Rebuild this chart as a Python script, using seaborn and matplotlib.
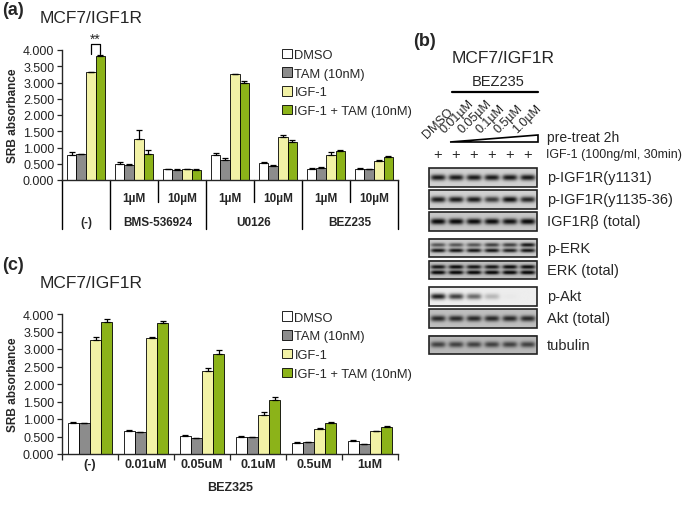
import numpy as np
import pandas as pd
import matplotlib
matplotlib.use("Agg")
import matplotlib.pyplot as plt
from matplotlib.patches import Rectangle, Polygon
import seaborn as sns

# ---------------- data ----------------
TREATS = ["DMSO", "TAM (10nM)", "IGF-1", "IGF-1 + TAM (10nM)"]
COLORS = ["#ffffff", "#8c8c8c", "#ffff99", "#99cc00"]

# panel (a)
a_cats = ["(-)", "BMS 1", "BMS 10", "U0126 1", "U0126 10", "BEZ 1", "BEZ 10"]
a_sub = ["", "1µM", "10µM", "1µM", "10µM", "1µM", "10µM"]
a_main = ["BMS-536924", "U0126", "BEZ235"]
a_dmso = [0.78, 0.49, 0.33, 0.76, 0.53, 0.34, 0.34]
a_tam = [0.79, 0.46, 0.32, 0.61, 0.43, 0.37, 0.34]
a_igf = [3.31, 1.25, 0.34, 3.26, 1.31, 0.77, 0.59]
a_igf_tam = [3.82, 0.80, 0.32, 2.97, 1.18, 0.90, 0.71]
a_err_dmso = [0.08, 0.05, 0.02, 0.06, 0.01, 0.02, 0.02]
a_err_tam = [0.02, 0.02, 0.01, 0.06, 0.02, 0.02, 0.01]
a_err_igf = [0.02, 0.30, 0.01, 0.01, 0.08, 0.08, 0.02]
a_err_igf_tam = [0.02, 0.12, 0.01, 0.08, 0.05, 0.02, 0.02]

# panel (c)
c_cats = ["(-)", "0.01uM", "0.05uM", "0.1uM", "0.5uM", "1uM"]
c_dmso = [0.90, 0.67, 0.52, 0.50, 0.31, 0.36]
c_tam = [0.88, 0.62, 0.45, 0.49, 0.33, 0.29]
c_igf = [3.26, 3.31, 2.36, 1.11, 0.71, 0.65]
c_igf_tam = [3.78, 3.74, 2.86, 1.54, 0.90, 0.78]
c_err_dmso = [0.01, 0.01, 0.02, 0.01, 0.02, 0.03]
c_err_tam = [0.01, 0.01, 0.01, 0.01, 0.01, 0.01]
c_err_igf = [0.08, 0.02, 0.10, 0.10, 0.02, 0.01]
c_err_igf_tam = [0.07, 0.05, 0.10, 0.10, 0.01, 0.01]

# panel (b) western blot
lanes = ["DMSO", "0.01µM", "0.05µM", "0.1µM", "0.5µM", "1.0µM"]
blot_rows = ["p-IGF1R(y1131)", "p-IGF1R(y1135-36)", "IGF1Rβ (total)",
             "p-ERK", "ERK (total)", "p-Akt", "Akt (total)", "tubulin"]
blot_block = [0, 0, 0, 1, 1, 2, 2, 3]
# band intensities per lane (upper band, lower band for doublets)
band_upper = [
    [0.85, 0.85, 0.85, 0.85, 0.85, 0.85],
    [0.85, 0.85, 0.85, 0.70, 0.90, 0.80],
    [0.90, 0.90, 0.88, 0.88, 0.85, 0.90],
    [0.55, 0.55, 0.55, 0.65, 0.65, 0.85],
    [0.80, 0.85, 0.80, 0.80, 0.85, 0.85],
    [0.95, 0.80, 0.60, 0.25, 0.02, 0.00],
    [0.70, 0.70, 0.70, 0.70, 0.70, 0.70],
    [0.55, 0.55, 0.55, 0.55, 0.55, 0.55],
]
band_lower = [
    None, None, None,
    [0.85, 0.85, 0.85, 0.85, 0.80, 0.85],
    [0.90, 0.90, 0.90, 0.90, 0.90, 0.90],
    None, None, None,
]
blot_bg = [0.82, 0.82, 0.78, 0.80, 0.75, 0.93, 0.75, 0.72]


def long_df(cats, series):
    rows = []
    for t, vals in zip(TREATS, series):
        for c, v in zip(cats, vals):
            rows.append({"cat": c, "treat": t, "val": v})
    return pd.DataFrame(rows)


def draw_bars(ax, cats, series, errs, bbox):
    df = long_df(cats, series)
    sns.barplot(data=df, x="cat", y="val", hue="treat", order=cats,
                hue_order=TREATS, palette=COLORS, edgecolor="black",
                linewidth=0.6, width=0.8, gap=0, errorbar=None, ax=ax)
    for cont, err in zip(ax.containers, errs):
        xs = [b.get_x() + b.get_width() / 2 for b in cont]
        ys = [b.get_height() for b in cont]
        ax.errorbar(xs, ys, yerr=[np.zeros(len(err)), err], fmt="none",
                    ecolor="black", elinewidth=0.9, capsize=2.5, capthick=0.9)
    ax.set_ylim(0, 4)
    ax.set_xlim(-0.5, len(cats) - 0.5)
    ax.set_yticks(np.arange(0, 4.01, 0.5))
    ax.set_yticklabels([f"{v:.3f}" for v in np.arange(0, 4.01, 0.5)],
                       fontsize=9, color="#222222")
    ax.set_ylabel("SRB absorbance", fontsize=8.5, fontweight="bold", labelpad=3)
    ax.set_xlabel("")
    ax.tick_params(axis="y", direction="out", length=3.5, width=0.9, pad=2)
    sns.despine(ax=ax)
    for s in ["left", "bottom"]:
        ax.spines[s].set_linewidth(1.0)
    h, l = ax.get_legend_handles_labels()
    ax.legend(h, l, loc="upper left", bbox_to_anchor=bbox, frameon=False,
              fontsize=9.3, handlelength=0.75, handleheight=0.75,
              handletextpad=0.2, labelspacing=0.5, borderaxespad=0)


sns.set_style("ticks")
plt.rcParams["font.family"] = ["Liberation Sans", "DejaVu Sans"]

fig = plt.figure(figsize=(6.85, 5.06), dpi=100)
W, H = 685, 506

# ---- panel (a) ----
ax_a = fig.add_axes([62 / W, 1 - 181 / H, 336 / W, 130 / H])
draw_bars(ax_a, a_cats, [a_dmso, a_tam, a_igf, a_igf_tam],
          [a_err_dmso, a_err_tam, a_err_igf, a_err_igf_tam], (0.64, 1.05))
ax_a.set_xticks([])
xt = ax_a.get_xaxis_transform()
long_y, short_y = -0.375, -0.17
for xb in [-0.5, 0.5, 2.5, 4.5, 6.5]:
    ax_a.plot([xb, xb], [0, long_y], transform=xt, color="black", lw=1.0, clip_on=False)
for xb in [1.5, 3.5, 5.5]:
    ax_a.plot([xb, xb], [0, short_y], transform=xt, color="black", lw=1.0, clip_on=False)
for i, s in enumerate(a_sub):
    ax_a.text(i, -0.135, s, transform=xt, ha="center", va="center",
              fontsize=8.5, fontweight="bold")
ax_a.text(0, -0.32, a_cats[0], transform=xt, ha="center", va="center",
          fontsize=8.5, fontweight="bold")
for i, s in enumerate(a_main):
    ax_a.text(1.5 + 2 * i, -0.32, s, transform=xt, ha="center", va="center",
              fontsize=8.5, fontweight="bold")
# significance bracket between IGF-1 and IGF-1 + TAM in (-)
b1 = ax_a.containers[2][0]
b2 = ax_a.containers[3][0]
x1 = b1.get_x() + b1.get_width() / 2
x2 = b2.get_x() + b2.get_width() / 2
ax_a.plot([x1, x1, x2, x2], [3.88, 4.18, 4.18, 3.88], color="black", lw=0.9, clip_on=False)
ax_a.text((x1 + x2) / 2, 4.34, "**", ha="center", va="center", fontsize=10)

# ---- panel (c) ----
ax_c = fig.add_axes([62 / W, 1 - 455 / H, 336 / W, 140 / H])
draw_bars(ax_c, c_cats, [c_dmso, c_tam, c_igf, c_igf_tam],
          [c_err_dmso, c_err_tam, c_err_igf, c_err_igf_tam], (0.64, 1.055))
ax_c.set_xticks(np.arange(-0.5, len(c_cats), 1.0), minor=False)
ax_c.set_xticklabels([])
ax_c.tick_params(axis="x", direction="out", length=4, width=0.9)
xt = ax_c.get_xaxis_transform()
for i, s in enumerate(c_cats):
    ax_c.text(i, -0.07, s, transform=xt, ha="center", va="center",
              fontsize=9, fontweight="bold")
ax_c.text((len(c_cats) - 1) / 2, -0.235, "BEZ325", transform=xt,
          ha="center", va="center", fontsize=9, fontweight="bold")

# ---- overlay in pixel coordinates: titles and blot ----
ov = fig.add_axes([0, 0, 1, 1])
ov.set_xlim(0, W)
ov.set_ylim(H, 0)
ov.axis("off")
ov.patch.set_alpha(0)

ov.text(2, 10, "(a)", fontsize=13, fontweight="bold", va="center")
ov.text(40, 18, "MCF7/IGF1R", fontsize=12.5, va="center")
ov.text(2, 266, "(c)", fontsize=13, fontweight="bold", va="center")
ov.text(40, 283, "MCF7/IGF1R", fontsize=12.5, va="center")
ov.text(413, 41, "(b)", fontsize=13, fontweight="bold", va="center")
ov.text(452, 58, "MCF7/IGF1R", fontsize=12.5, va="center")

bx0, bx1 = 429, 537
lane_w = (bx1 - bx0) / len(lanes)
centers = [bx0 + lane_w * (i + 0.5) for i in range(len(lanes))]

ov.text(498, 82, "BEZ235", fontsize=10.5, ha="center", va="center")
ov.plot([centers[1] - 4, bx1 + 1], [93, 93], color="black", lw=1.6)
for i, (c, s) in enumerate(zip(centers, lanes)):
    yb = 141 if i == 0 else 136
    ov.text(c - 9, yb, s, rotation=45, rotation_mode="anchor", ha="left",
            va="bottom", fontsize=9)
ov.add_patch(Polygon([[centers[1] - 6, 143], [bx1 + 1, 143], [bx1 + 1, 135.5]],
                     closed=True, facecolor="white", edgecolor="black", lw=1.2))
ov.text(547, 138, "pre-treat 2h", fontsize=10, va="center")
for c in centers:
    ov.text(c, 155, "+", fontsize=10.5, ha="center", va="center")
ov.text(546, 155, "IGF-1 (100ng/ml, 30min)", fontsize=9.0, va="center")

row_h = 18.5
y = 169.0
prev = blot_block[0]
xs = np.linspace(0, len(lanes), 240)
ys = np.linspace(0, 1, 40)
for r, name in enumerate(blot_rows):
    if blot_block[r] != prev:
        y += 4.5
        prev = blot_block[r]
    img = np.full((len(ys), len(xs)), blot_bg[r])
    if band_lower[r] is None:
        bands = [(0.5, 0.16, band_upper[r])]
    else:
        bands = [(0.36, 0.11, band_upper[r]), (0.66, 0.11, band_lower[r])]
    for yc, sig, vals in bands:
        vprof = np.exp(-((ys - yc) / sig) ** 2)
        for i, v in enumerate(vals):
            hp = np.exp(-((xs - (i + 0.5)) / 0.42) ** 4)
            img -= v * 0.85 * np.outer(vprof, hp)
    img = np.clip(img, 0.05, 1)
    ov.imshow(img, cmap="gray", vmin=0, vmax=1, aspect="auto",
              extent=(bx0, bx1, y + row_h, y), interpolation="bilinear")
    ov.add_patch(Rectangle((bx0, y), bx1 - bx0, row_h, fill=False,
                           edgecolor="#222222", lw=1.2))
    ov.text(547, y + row_h / 2, name, fontsize=10.5, va="center")
    y += row_h + 3.5
ov.set_xlim(0, W)
ov.set_ylim(H, 0)

fig.savefig("out.png", dpi=100)
